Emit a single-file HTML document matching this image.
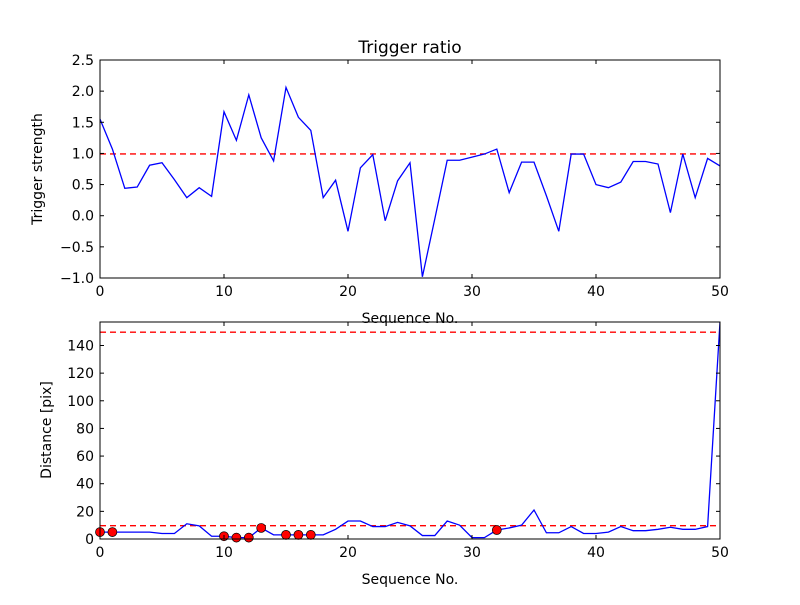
<!DOCTYPE html>
<html><head><meta charset="utf-8"><style>body{margin:0;background:#fff}svg{font-family:"DejaVu Sans","Liberation Sans",sans-serif}</style></head>
<body>
<svg id="c" width="800" height="600" xmlns="http://www.w3.org/2000/svg">
<rect width="800" height="600" fill="#fff"/>
</svg>
<script>
const seqIdx=[...Array(51).keys()];
const ratio=[1.55,1.07,0.44,0.46,0.81,0.85,0.58,0.29,0.45,0.31,1.67,1.21,1.94,1.25,0.88,2.06,1.58,1.37,0.29,0.57,-0.25,0.77,0.98,-0.08,0.56,0.85,-0.98,-0.05,0.89,0.89,0.94,0.99,1.07,0.37,0.86,0.86,0.32,-0.25,0.99,0.99,0.50,0.45,0.54,0.87,0.87,0.83,0.05,0.99,0.29,0.92,0.80];
const dist=[5,5,5,5,5,4,4,11,9.5,2,2,1,1,8,3,3,3,3,3,7,13,13,9,9,12,9.5,2.5,2.5,13,10,1,1,6.5,8,10,21,4.5,4.5,9,4,4,5,9,6,6,7,8.5,7,7,9,157];
const markIdx=[0,1,10,11,12,13,15,16,17,32];
const xTicks=[0,10,20,30,40,50];
const yTicksTop=[-1.0,-0.5,0.0,0.5,1.0,1.5,2.0,2.5];
const yTicksBot=[0,20,40,60,80,100,120,140];
const ratioRef=[1.0];
const distRef=[10,150];

const NS="http://www.w3.org/2000/svg",svg=document.getElementById('c');
function el(t,a,txt){const e=document.createElementNS(NS,t);for(const k in a)e.setAttribute(k,a[k]);if(txt!==undefined)e.textContent=txt;svg.appendChild(e);return e;}
const L=100,R=720;
const xs=v=>L+(v-0)/(50-0)*(R-L);
function axes(top,bot,y,yt,fmt,name){
  let f=el('rect',{x:L,y:top,width:R-L,height:bot-top,fill:'none',stroke:'#000','stroke-width':1});
  
  xTicks.forEach(v=>{const X=xs(v);
    el('line',{x1:X,y1:bot,x2:X,y2:bot-4,stroke:'#000'});el('line',{x1:X,y1:top,x2:X,y2:top+4,stroke:'#000'});
    const t=el('text',{x:X,y:bot+18,'text-anchor':'middle','font-size':14},String(v));
    });
  yt.forEach(v=>{const Y=y(v);
    el('line',{x1:L,y1:Y,x2:L+4,y2:Y,stroke:'#000'});el('line',{x1:R,y1:Y,x2:R-4,y2:Y,stroke:'#000'});
    const t=el('text',{x:L-6,y:Y+5,'text-anchor':'end','font-size':14},fmt(v));
    });
}
const T1=60,B1=278,yT=v=>B1-(v+1)/3.5*(B1-T1);
ratioRef.forEach(r=>{const l=el('line',{x1:L,x2:R,y1:yT(r)+0.5,y2:yT(r)+0.5,stroke:'#ff0000','stroke-width':1.3,'stroke-dasharray':'6,4'});
});
let p=el('polyline',{points:seqIdx.map(i=>xs(i)+','+yT(ratio[i])).join(' '),fill:'none',stroke:'blue','stroke-width':1.3});

axes(T1,B1,yT,yTicksTop,v=>v.toFixed(1).replace('-','\u2212'),'top');
let t=el('text',{x:410,y:53,'text-anchor':'middle','font-size':17},'Trigger ratio');
t=el('text',{x:410,y:323,'text-anchor':'middle','font-size':14},'Sequence No.');
t=el('text',{x:42,y:169,'text-anchor':'middle','font-size':14,transform:'rotate(-90 42 169)'},'Trigger strength');
const T2=322,B2=539,YM=157,yB=v=>B2-v/YM*(B2-T2);
const cp=document.createElementNS(NS,'clipPath');cp.setAttribute('id','cp');svg.appendChild(cp);
const cr=document.createElementNS(NS,'rect');
cr.setAttribute('x',L);cr.setAttribute('y',T2);cr.setAttribute('width',R-L);cr.setAttribute('height',B2-T2);cp.appendChild(cr);
distRef.forEach(r=>{const l=el('line',{x1:L,x2:R,y1:yB(r)+0.5,y2:yB(r)+0.5,stroke:'#ff0000','stroke-width':1.3,'stroke-dasharray':'6,4'});
});
p=el('polyline',{points:seqIdx.map(i=>xs(i)+','+yB(dist[i])).join(' '),fill:'none',stroke:'blue','stroke-width':1.3,'clip-path':'url(#cp)'});

markIdx.forEach(i=>{const c=el('circle',{cx:xs(i),cy:yB(dist[i]),r:4.5,fill:'red',stroke:'#000','stroke-width':0.7});
});
axes(T2,B2,yB,yTicksBot,v=>String(v),'bottom');
t=el('text',{x:410,y:584,'text-anchor':'middle','font-size':14},'Sequence No.');
t=el('text',{x:51,y:430,'text-anchor':'middle','font-size':14,transform:'rotate(-90 51 430)'},'Distance [pix]');
</script>
</body></html>
